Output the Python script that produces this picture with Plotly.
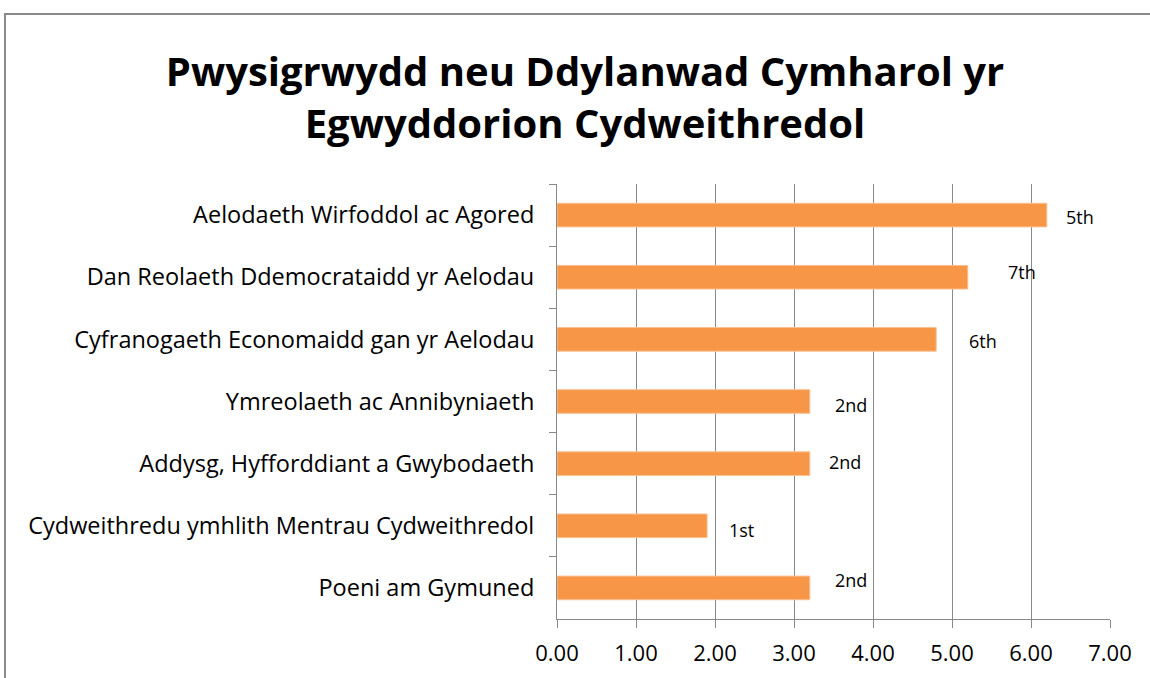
import plotly.graph_objects as go

categories = [
    "Aelodaeth Wirfoddol ac Agored",
    "Dan Reolaeth Ddemocrataidd yr Aelodau",
    "Cyfranogaeth Economaidd gan yr Aelodau",
    "Ymreolaeth ac Annibyniaeth",
    "Addysg, Hyfforddiant a Gwybodaeth",
    "Cydweithredu ymhlith Mentrau Cydweithredol",
    "Poeni am Gymuned",
]
values = [6.2, 5.2, 4.8, 3.2, 3.2, 1.9, 3.2]
rank_labels = ["5th", "7th", "6th", "2nd", "2nd", "1st", "2nd"]
x_ticks = [0, 1, 2, 3, 4, 5, 6, 7]
x_tick_text = ["0.00", "1.00", "2.00", "3.00", "4.00", "5.00", "6.00", "7.00"]
title_text = "Pwysigrwydd neu Ddylanwad Cymharol yr<br>Egwyddorion Cydweithredol"

# label offsets (pixels) as placed in the original chart
label_dx = [33, 54, 47, 41, 35, 34, 41]
label_dy = [-2, 5, -2, -3, 2, -4, 8]

W, H = 1150, 678
ML, MR, MT, MB = 557, 40, 184, 59
FONT = "Open Sans, Carlito, Calibri, sans-serif"
ORANGE = "#F79646"
GRID = "#898989"

fig = go.Figure()
fig.add_trace(go.Bar(
    x=values, y=categories, orientation="h",
    marker=dict(color=ORANGE, line=dict(color="#FAC090", width=1)),
    width=0.38, hoverinfo="x+y",
))

for v, c, t, dx, dy in zip(values, categories, rank_labels, label_dx, label_dy):
    fig.add_annotation(x=v, y=c, text=t, showarrow=False, xanchor="center",
                       yanchor="middle", xshift=dx, yshift=dy,
                       font=dict(family=FONT, size=18, color="black"))

pw = W - ML - MR
ph = H - MT - MB
def px_x(p):
    return (p - ML) / pw
def px_y(p):
    return (H - MB - p) / ph

# outer chart border (gray, only top & left visible)
fig.add_shape(type="rect", xref="paper", yref="paper",
              x0=px_x(5), x1=px_x(1160), y0=px_y(690), y1=px_y(14),
              line=dict(color="#8A8A8A", width=2), fillcolor="rgba(0,0,0,0)", layer="below")

fig.update_layout(
    width=W, height=H,
    margin=dict(l=ML, r=MR, t=MT, b=MB, autoexpand=False),
    paper_bgcolor="white", plot_bgcolor="white",
    showlegend=False,
    title=dict(text=title_text, x=585 / W, xanchor="center",
               y=1 - 85.5 / H, yanchor="middle", yref="container",
               font=dict(family=FONT, size=40, color="black", weight="bold")),
    font=dict(family=FONT, color="black"),
)
fig.update_xaxes(range=[0, 7], tickvals=x_ticks, ticktext=x_tick_text,
                 showgrid=True, gridcolor=GRID, gridwidth=1,
                 showline=True, linecolor=GRID, linewidth=1,
                 ticks="outside", ticklen=8, tickcolor=GRID,
                 ticklabelstandoff=7, automargin=False,
                 tickfont=dict(family=FONT, size=22, color="black"),
                 zeroline=False, fixedrange=True)
fig.update_yaxes(categoryorder="array", categoryarray=categories,
                 autorange="reversed", showgrid=False,
                 showline=True, linecolor=GRID, linewidth=1,
                 ticks="outside", ticklen=7, tickcolor=GRID, tickson="boundaries",
                 ticklabelstandoff=17, automargin=False,
                 tickfont=dict(family=FONT, size=23.5, color="black"),
                 fixedrange=True)

fig.write_html("out.html", config={"displayModeBar": False},
               post_script="document.body.style.margin='0';document.body.style.overflow='hidden';")
